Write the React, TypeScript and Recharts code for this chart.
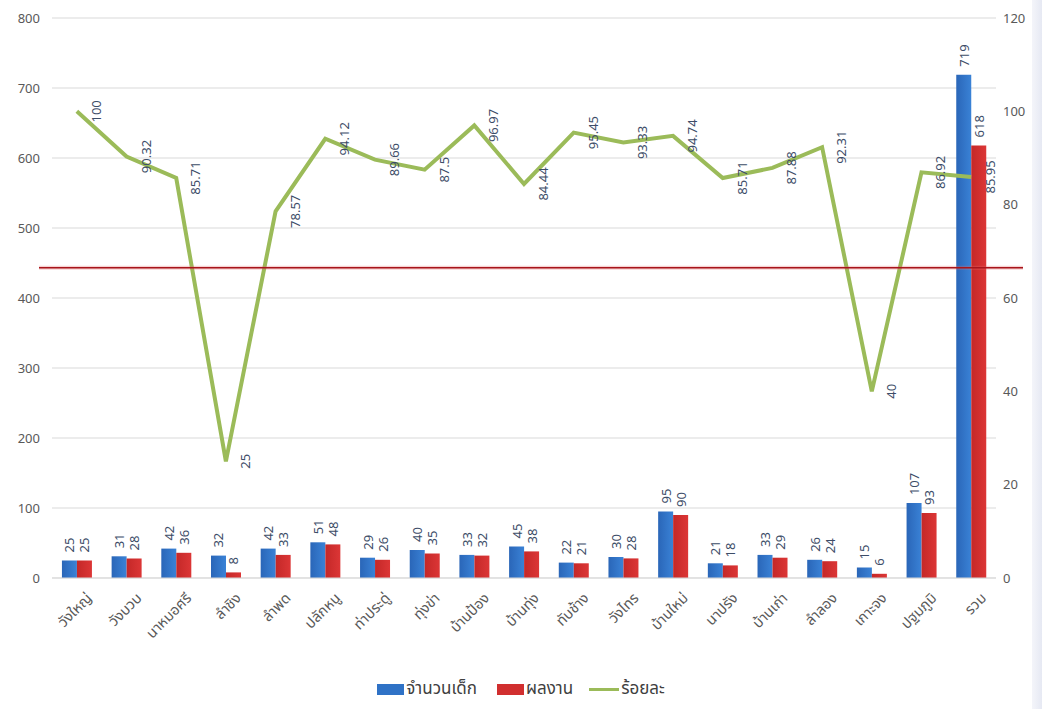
import React from 'react';
import { ComposedChart, Bar, Line, XAxis, YAxis, CartesianGrid, Legend, ReferenceLine } from 'recharts';

const categories = [
  'วังใหญ่', 'วังบวบ', 'นาหมอศรี', 'ลำชิง', 'ลำพด', 'ปลักหนู', 'ท่าประดู่', 'ทุ่งข่า', 'บ้านป้อง', 'บ้านทุ่ง',
  'ทับช้าง', 'วังไทร', 'บ้านใหม่', 'นาปรัง', 'บ้านเก่า', 'ลำลอง', 'เกาะจง', 'ปฐมภูมิ', 'รวม',
];
const children = [25, 31, 42, 32, 42, 51, 29, 40, 33, 45, 22, 30, 95, 21, 33, 26, 15, 107, 719];
const results = [25, 28, 36, 8, 33, 48, 26, 35, 32, 38, 21, 28, 90, 18, 29, 24, 6, 93, 618];
const percents = [100, 90.32, 85.71, 25, 78.57, 94.12, 89.66, 87.5, 96.97, 84.44, 95.45, 93.33, 94.74, 85.71, 87.88, 92.31, 40, 86.92, 85.95];
const leftTicks = [0, 100, 200, 300, 400, 500, 600, 700, 800];
const rightTicks = [0, 20, 40, 60, 80, 100, 120];
const targetLine = 66.5;

const data = categories.map((name, i) => ({
  name,
  children: children[i],
  results: results[i],
  percent: percents[i],
}));

const FONT = '"Noto Sans", "Noto Sans Thai", "DejaVu Sans", sans-serif';
const LABEL_COLOR = '#3d4d68';
const TICK_COLOR = '#595959';

const BarLabel = (props: any) => {
  const { x, y, width, value } = props;
  const cx = x + width / 2;
  const ty = y - 8;
  return (
    <text x={cx} y={ty} transform={`rotate(-90 ${cx} ${ty})`} textAnchor="start" dominantBaseline="central"
      fontSize={13} fill={LABEL_COLOR} fontFamily={FONT}>
      {value}
    </text>
  );
};

const LineLabel = (props: any) => {
  const { x, y, value } = props;
  const cx = x + 19;
  return (
    <text x={cx} y={y} transform={`rotate(-90 ${cx} ${y})`} textAnchor="middle" dominantBaseline="central"
      fontSize={13} fill={LABEL_COLOR} fontFamily={FONT}>
      {value}
    </text>
  );
};

const XTick = (props: any) => {
  const { x, y, payload } = props;
  return (
    <g transform={`translate(${x + 7},${y + 4})`}>
      <text x={0} y={0} transform="rotate(-45)" textAnchor="end" dominantBaseline="hanging"
        fontSize={14.5} fill={TICK_COLOR} fontFamily={FONT}>
        {payload.value}
      </text>
    </g>
  );
};

// the target line runs a little past the plot on both sides, as in the original
const TargetShape = (props: any) => {
  const { x1, x2, y1 } = props;
  const left = Math.min(x1, x2) - 13;
  const right = Math.max(x1, x2) + 27;
  return (
    <g>
      <line x1={left} x2={right} y1={y1} y2={y1} stroke="#e06a6a" strokeOpacity={0.3} strokeWidth={4} />
      <line x1={left} x2={right} y1={y1} y2={y1} stroke="#a8151b" strokeWidth={1.5} />
    </g>
  );
};

const LegendContent = () => (
  <div style={{ height: 40, display: 'flex', justifyContent: 'center', alignItems: 'flex-start', paddingTop: 7, boxSizing: 'border-box', fontFamily: FONT, fontSize: 17, color: '#404040' }}>
    <span style={{ display: 'flex', alignItems: 'center', marginRight: 20 }}>
      <span style={{ width: 27, height: 11, background: '#2f72c6', marginRight: 2 }} />จำนวนเด็ก
    </span>
    <span style={{ display: 'flex', alignItems: 'center', marginRight: 16 }}>
      <span style={{ width: 27, height: 11, background: '#d12f2f', marginRight: 2 }} />ผลงาน
    </span>
    <span style={{ display: 'flex', alignItems: 'center' }}>
      <span style={{ width: 30, height: 3, background: '#9bbb59', marginRight: 2 }} />ร้อยละ
    </span>
  </div>
);

const App = () => {
  return (
    <div style={{ position: 'absolute', left: 0, top: 0, width: 1042, height: 709, background: '#ffffff' }}>
      <div style={{ position: 'absolute', right: 0, top: 0, width: 10, height: 709, background: 'linear-gradient(to right, #f4f5fa, #e6e9f3)' }} />
      <ComposedChart width={1042} height={709} data={data} barCategoryGap="20%" barGap={0}
        margin={{ top: 18, right: 0, left: 0, bottom: 0 }}>
        <defs>
          <linearGradient id="blueGrad" x1="0" y1="0" x2="1" y2="0">
            <stop offset="0%" stopColor="#2a66b8" />
            <stop offset="100%" stopColor="#3a82d6" />
          </linearGradient>
          <linearGradient id="redGrad" x1="0" y1="0" x2="1" y2="0">
            <stop offset="0%" stopColor="#c42828" />
            <stop offset="100%" stopColor="#dc3636" />
          </linearGradient>
        </defs>
        <CartesianGrid yAxisId="left" vertical={false} stroke="#d9d9d9" />
        <XAxis dataKey="name" interval={0} height={91} tickLine={false} axisLine={{ stroke: '#d9d9d9' }} tick={<XTick />} />
        <YAxis yAxisId="left" domain={[0, 800]} ticks={leftTicks} width={52} tickMargin={6}
          axisLine={false} tickLine={false} tick={{ fontSize: 13, fill: TICK_COLOR, fontFamily: FONT }} />
        <YAxis yAxisId="right" orientation="right" domain={[0, 120]} ticks={rightTicks} width={46} tickMargin={1}
          axisLine={false} tickLine={false} tick={{ fontSize: 13, fill: TICK_COLOR, fontFamily: FONT, textAnchor: 'start' }} />
        <Legend verticalAlign="bottom" content={<LegendContent />} />
        <Bar yAxisId="left" dataKey="children" name="จำนวนเด็ก" fill="url(#blueGrad)" isAnimationActive={false} label={<BarLabel />} />
        <Bar yAxisId="left" dataKey="results" name="ผลงาน" fill="url(#redGrad)" isAnimationActive={false} label={<BarLabel />} />
        <ReferenceLine yAxisId="right" y={targetLine} ifOverflow="visible" shape={<TargetShape />} zIndex={1000} />
        <Line yAxisId="right" dataKey="percent" name="ร้อยละ" stroke="#9bbb59" strokeWidth={4} dot={false}
          type="linear" isAnimationActive={false} label={<LineLabel />} />
      </ComposedChart>
    </div>
  );
};

export default App;
